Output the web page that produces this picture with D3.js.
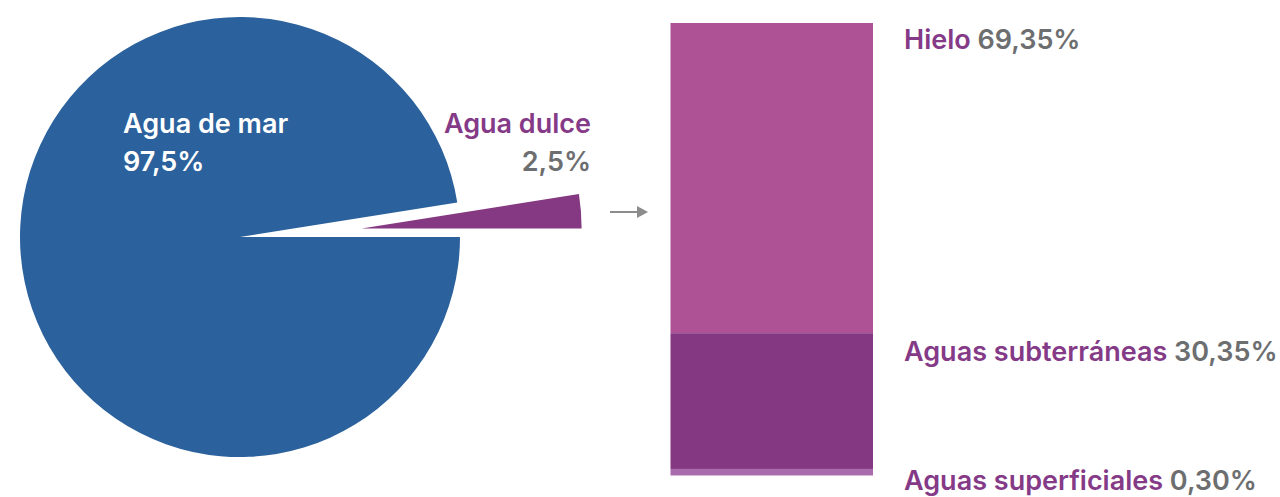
<!DOCTYPE html>
<html><head><meta charset="utf-8">
<script src="https://cdn.jsdelivr.net/npm/d3@7/dist/d3.min.js"></script>
<style>
html,body{margin:0;padding:0;background:#fff;}
svg{display:block;}
text{font-family:Inter,"Noto Sans",sans-serif;font-weight:600;}
</style></head>
<body><svg id="c" width="1280" height="497"></svg>
<script>
const pieCategories = ["Agua de mar", "Agua dulce"];
const pieValues = [97.5, 2.5];
const pieValueLabels = ["97,5%", "2,5%"];
const barCategories = ["Hielo", "Aguas subterráneas", "Aguas superficiales"];
const barValues = [69.35, 30.35, 0.30];
const barValueLabels = ["69,35%", "30,35%", "0,30%"];

const pieColors = ["#2b619c", "#843982"];
const barColors = ["#ae5295", "#843882", "#a86bad"];
const purple = "#853a87", gray = "#6d6e70";
const FS = 27;

const svg = d3.select("#c");

// ---- Pie ----
const cx = 240, cy = 237, R = 220, explode = 122;
const pie = d3.pie().sort(null).startAngle(Math.PI/2).endAngle(Math.PI/2 + 2*Math.PI);
const arcs = pie(pieValues);
const arc = d3.arc().innerRadius(0).outerRadius(R);
const pg = svg.append("g").attr("transform", `translate(${cx},${cy})`);
pg.selectAll("path").data(arcs).join("path")
  .attr("d", arc)
  .attr("fill", (d,i) => pieColors[i])
  .attr("transform", (d,i) => {
    if (i === 0) return null;
    const a = (d.startAngle + d.endAngle)/2;
    return `translate(${explode*Math.sin(a)},${-explode*Math.cos(a)+1})`;
  });

// sea label
const t1 = svg.append("text").attr("fill", "#fff").attr("font-size", FS);
t1.append("tspan").attr("x", 123).attr("y", 133).text(pieCategories[0]);
t1.append("tspan").attr("x", 123).attr("y", 171).text(pieValueLabels[0]);
// fresh label
const t2 = svg.append("text").attr("text-anchor", "end").attr("font-size", FS);
t2.append("tspan").attr("x", 591).attr("y", 133).attr("fill", purple).text(pieCategories[1]);
t2.append("tspan").attr("x", 591).attr("y", 171).attr("fill", gray).text(pieValueLabels[1]);

// arrow
svg.append("line").attr("x1", 610).attr("x2", 640).attr("y1", 212).attr("y2", 212)
  .attr("stroke", "#8c8c8c").attr("stroke-width", 2);
svg.append("path").attr("d", "M637,206 L648,212 L637,218 Z").attr("fill", "#8c8c8c");

// ---- Stacked bar ----
const barX = 670.5, barW = 202.5, barTop = 23, minH = 6.5;
const h = d3.scaleLinear().domain([0, 100]).range([0, 447.3]);
let acc = barTop;
const segs = barValues.map((v,i) => {
  const hh = Math.max(h(v), minH);
  const s = {y: acc, h: hh, i};
  acc += hh;
  return s;
});
svg.append("g").selectAll("rect").data(segs).join("rect")
  .attr("x", barX).attr("width", barW)
  .attr("y", d => d.y).attr("height", d => d.h)
  .attr("fill", d => barColors[d.i]);

const labelY = [49, 361, 490];
barCategories.forEach((c,i) => {
  const t = svg.append("text").attr("x", 904).attr("y", labelY[i]).attr("font-size", FS);
  t.append("tspan").attr("fill", purple).text(c);
  t.append("tspan").attr("fill", gray).text(" " + barValueLabels[i]);
});
</script></body></html>
